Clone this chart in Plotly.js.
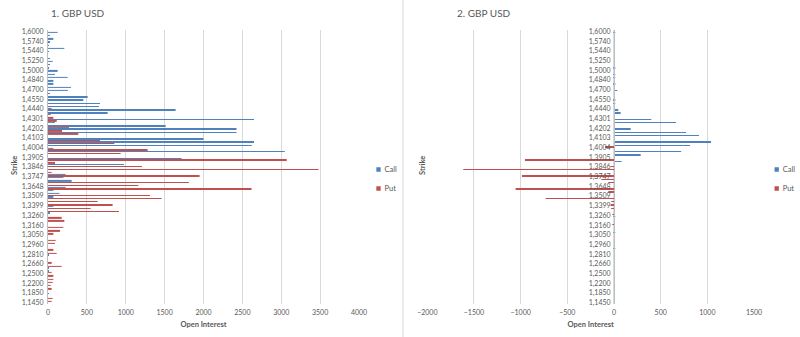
<!DOCTYPE html>
<html>
<head>
<meta charset="utf-8">
<script src="https://cdn.plot.ly/plotly-3.0.1.min.js"></script>
<style>
html,body{margin:0;padding:0;background:#fff;}
#chart{width:800px;height:337px;}
g.legendpoints path{transform:translate(34px,0px) scale(0.36);}
</style>
</head>
<body>
<div id="chart"></div>
<script>
// Strike categories, top to bottom as shown in the chart
var strikes = ["1,6000","1,5900","1,5800","1,5740","1,5650","1,5550","1,5440","1,5380","1,5300","1,5250",
"1,5150","1,5050","1,5000","1,4950","1,4900","1,4840","1,4800","1,4750","1,4700","1,4650",
"1,4600","1,4550","1,4500","1,4470","1,4440","1,4400","1,4350","1,4301","1,4268","1,4235",
"1,4202","1,4169","1,4136","1,4103","1,4070","1,4037","1,4004","1,3971","1,3938","1,3905",
"1,3885","1,3866","1,3846","1,3813","1,3780","1,3747","1,3714","1,3681","1,3648","1,3602",
"1,3555","1,3509","1,3472","1,3436","1,3399","1,3353","1,3306","1,3260","1,3227","1,3193",
"1,3160","1,3123","1,3087","1,3050","1,3020","1,2990","1,2960","1,2910","1,2860","1,2810",
"1,2760","1,2710","1,2660","1,2610","1,2550","1,2500","1,2400","1,2300","1,2200","1,2080",
"1,1970","1,1850","1,1720","1,1590","1,1450"];

// Strike labels that are printed on the axis
var tickLabels = ["1,6000","1,5740","1,5440","1,5250","1,5000","1,4840","1,4700","1,4550","1,4440","1,4301",
"1,4202","1,4103","1,4004","1,3905","1,3846","1,3747","1,3648","1,3509","1,3399","1,3260",
"1,3160","1,3050","1,2960","1,2810","1,2660","1,2500","1,2200","1,1850","1,1450"];

// Chart 1: open interest
var call1 = [124,26,69,25,10,210,10,0,15,60,
15,10,124,90,253,69,69,296,257,15,
510,454,668,656,1641,767,0,2650,90,1513,
2425,2425,0,2000,2650,2620,69,3045,0,1718,
0,977,0,0,227,199,304,0,227,69,
146,69,0,0,69,0,15,0,0,0,
0,0,0,0,0,0,0,0,0,10,
0,0,0,10,10,0,0,0,0,0,
0,10,0,0,0];

var put1 = [0,0,0,0,0,0,0,0,0,0,
0,0,0,0,0,0,0,0,0,0,
0,0,0,0,47,0,35,69,112,0,
270,180,390,0,668,853,0,1281,934,0,
3070,90,1208,3480,47,1950,0,1812,1162,2618,
0,1312,1461,638,831,548,913,0,176,210,
0,197,154,69,0,99,90,0,69,112,
0,0,47,176,0,47,69,69,60,35,
47,0,0,60,47];

// Chart 2: open interest (puts negative)
var call2 = [14,0,0,0,0,0,0,0,0,0,
0,8,0,5,5,0,5,0,36,0,
0,5,5,0,46,71,0,400,665,0,
179,772,911,0,1040,815,0,720,286,0,
82,0,0,0,0,0,0,0,0,0,
0,0,0,0,0,0,0,5,0,0,
0,0,5,0,0,0,0,5,0,0,
0,0,0,0,0,0,0,0,0,0,
0,0,0,0,0];

var put2 = [0,0,0,0,0,0,0,0,0,0,
0,0,0,0,0,0,0,0,0,0,
0,0,0,0,0,0,0,0,0,0,
0,0,0,0,0,0,-96,0,0,0,
-954,0,-36,-1615,0,-986,-136,-61,0,-1054,
-61,0,-732,-29,-36,-32,0,-10,0,0,
-8,0,0,0,0,0,0,0,0,0,
0,0,0,0,0,0,0,0,0,0,
0,0,0,0,0];

var seriesNames = ["Call","Put"];
var chartTitles = ["1. GBP USD","2. GBP USD"];
var axisTitleX = "Open Interest";
var axisTitleY = "Strike";

var BLUE = "#4f81bd", RED = "#c0504d";
var TXT = "#595959", GRID = "#d9d9d9", AXL = "#bfbfbf";
var FONT = "Lato, 'Open Sans', sans-serif";
var W = 800, H = 337;
function px(x){return x/W;}
function py(y){return 1-y/H;}

var catOrder = strikes.slice().reverse();

var traces = [
  {type:"bar", orientation:"h", name:seriesNames[0], x:call1, y:strikes, xaxis:"x", yaxis:"y",
   marker:{color:BLUE}, legend:"legend", hoverinfo:"x+y"},
  {type:"bar", orientation:"h", name:seriesNames[1], x:put1, y:strikes, xaxis:"x", yaxis:"y",
   marker:{color:RED}, legend:"legend", hoverinfo:"x+y"},
  {type:"bar", orientation:"h", name:seriesNames[0], x:call2, y:strikes, xaxis:"x2", yaxis:"y2",
   marker:{color:BLUE}, legend:"legend2", hoverinfo:"x+y"},
  {type:"bar", orientation:"h", name:seriesNames[1], x:put2, y:strikes, xaxis:"x2", yaxis:"y2",
   marker:{color:RED}, legend:"legend2", hoverinfo:"x+y"}
];

var yDom = [py(304.1), py(29.9)];
var tickFont = {family:FONT, size:7, color:TXT};
var axTitleFont = {family:FONT, size:7.5, color:TXT, weight:"bold"};

var layout = {
  width:W, height:H,
  margin:{l:0,r:0,t:0,b:0, autoexpand:false},
  paper_bgcolor:"#ffffff", plot_bgcolor:"rgba(0,0,0,0)",
  font:{family:FONT, color:TXT},
  barmode:"group", bargap:0, bargroupgap:0.75,
  title:{text:chartTitles[0], xref:"container", yref:"container", x:px(51), y:py(13),
         xanchor:"left", yanchor:"middle", font:{family:FONT, size:10, color:TXT}},
  xaxis:{domain:[px(48), px(359)], anchor:"y", range:[0,4000], dtick:500,
         showgrid:true, gridcolor:GRID, gridwidth:1, zeroline:false, showline:false,
         ticks:"", tickfont:tickFont, ticklabelstandoff:3, fixedrange:true,
         title:{text:axisTitleX, font:axTitleFont, standoff:6}},
  yaxis:{domain:yDom, anchor:"x", type:"category", categoryorder:"array", categoryarray:catOrder,
         tickmode:"array", tickvals:tickLabels, ticktext:tickLabels,
         showline:true, linecolor:AXL, linewidth:1, showgrid:false, ticks:"",
         tickfont:tickFont, ticklabelstandoff:2, fixedrange:true},
  xaxis2:{domain:[px(427.3), px(754)], anchor:"y2", range:[-2000,1500], dtick:500,
         showgrid:true, gridcolor:GRID, gridwidth:1, zeroline:false, showline:false,
         ticks:"", tickfont:tickFont, ticklabelstandoff:3, fixedrange:true,
         title:{text:axisTitleX, font:axTitleFont, standoff:6}},
  yaxis2:{domain:yDom, anchor:"free", position:px(614), type:"category", categoryorder:"array",
         categoryarray:catOrder, tickmode:"array", tickvals:tickLabels, ticktext:tickLabels,
         showline:true, linecolor:AXL, linewidth:1, showgrid:false, ticks:"",
         tickfont:tickFont, ticklabelstandoff:2, fixedrange:true},
  legend:{xref:"container", yref:"container", x:px(344.5), y:py(179), xanchor:"left", yanchor:"middle",
          traceorder:"normal", font:{family:FONT, size:7.5, color:TXT}, bgcolor:"rgba(0,0,0,0)", itemwidth:30},
  legend2:{xref:"container", yref:"container", x:px(742.7), y:py(179), xanchor:"left", yanchor:"middle",
          traceorder:"normal", font:{family:FONT, size:7.5, color:TXT}, bgcolor:"rgba(0,0,0,0)", itemwidth:30},
  shapes:[
    {type:"line", xref:"paper", yref:"paper", x0:px(403), x1:px(403), y0:0, y1:1,
     line:{color:GRID, width:1}}
  ],
  annotations:[
    {text:chartTitles[1], xref:"paper", yref:"paper", x:px(455), y:py(13), xanchor:"left", yanchor:"middle",
     showarrow:false, font:{family:FONT, size:10, color:TXT}},
    {text:axisTitleY, xref:"paper", yref:"paper", x:px(14), y:py(166), xanchor:"center", yanchor:"middle",
     textangle:-90, showarrow:false, font:axTitleFont},
    {text:axisTitleY, xref:"paper", yref:"paper", x:px(422), y:py(166), xanchor:"center", yanchor:"middle",
     textangle:-90, showarrow:false, font:axTitleFont}
  ]
};

Plotly.newPlot("chart", traces, layout, {displayModeBar:false});
</script>
</body>
</html>
